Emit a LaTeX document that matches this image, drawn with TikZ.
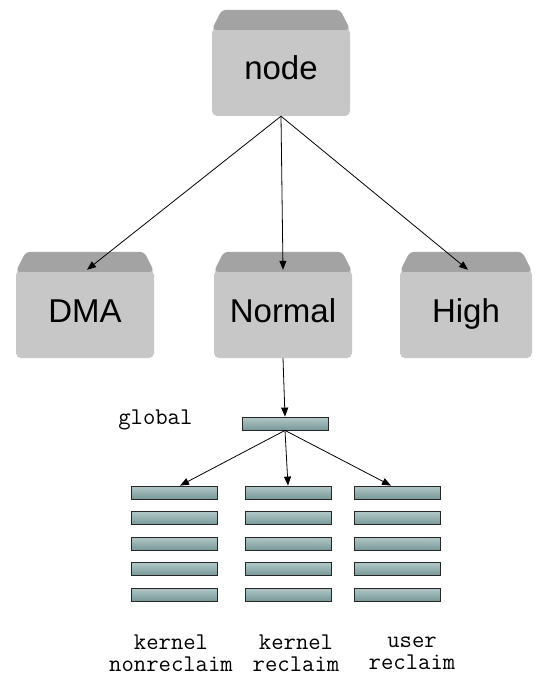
\documentclass[tikz,border=0pt]{standalone}
\usepackage{fontspec}
\setmainfont{Liberation Sans}
\usetikzlibrary{arrows.meta,positioning}

\definecolor{zonebody}{RGB}{199,199,199}
\definecolor{zonetop}{RGB}{163,163,163}
\definecolor{barlight}{RGB}{178,200,200}
\definecolor{bardark}{RGB}{120,152,152}

\begin{document}
\begin{tikzpicture}[x=1pt,y=-1pt,>={Triangle[length=9pt,width=7pt]},
  zone/.style={fill=zonebody,rounded corners=5pt,minimum width=138pt,
    minimum height=88pt,inner sep=0pt,text height=23pt,text depth=7pt,
    font=\fontsize{33}{33}\selectfont},
  bar/.style={draw=black!85,line width=0.8pt,top color=barlight,bottom color=bardark,
    minimum width=86pt,minimum height=13pt,inner sep=0pt},
  listname/.style={align=center,font=\ttfamily\fontsize{24}{22}\selectfont},
  link/.style={->,line width=0.8pt}]
\useasboundingbox (0,0) rectangle (537,682);

% zones
\node[zone] (pgdat) at (281,72) {node};
\node[zone] (dma) at (85,314) {DMA};
\node[zone] (normal) at (283,314) {Normal};
\node[zone,minimum width=132pt] (high) at (466,314) {High};
\foreach \z in {pgdat,dma,normal,high}
  \fill[zonetop,rounded corners=4pt] ([yshift=-2pt]\z.north west)
    -- ([xshift=10pt,yshift=18pt]\z.north west)
    -- ([xshift=-10pt,yshift=18pt]\z.north east)
    -- ([yshift=-2pt]\z.north east) -- cycle;

% lru lists
\node[bar] (global) at (285,423.5) {};
\node[listname,anchor=east] (globalname) at (196,420) {global};
\foreach \i in {1,...,5} {
  \node[bar] (knr\i) at (174,{492.5+25.5*(\i-1)}) {};
  \node[bar] (kr\i) at (288,{492.5+25.5*(\i-1)}) {};
  \node[bar] (ur\i) at (397,{492.5+25.5*(\i-1)}) {};
}
\node[listname] (knrname) at (171,653) {kernel\\nonreclaim};
\node[listname] (krname) at (296,653) {kernel\\reclaim};
\node[listname] (urname) at (412,653) {user\\reclaim};

\draw[link] (pgdat.south) -- ([xshift=2pt]dma.north);
\draw[link] (pgdat.south) -- (normal.north);
\draw[link] (pgdat.south) -- ([xshift=2pt]high.north);
\draw[link] (normal.south) -- (global.north);
\draw[link] (global.south) -- ([xshift=6pt]knr1.north);
\draw[link] (global.south) -- (kr1.north);
\draw[link] (global.south) -- ([xshift=-6pt]ur1.north);
\end{tikzpicture}
\end{document}
